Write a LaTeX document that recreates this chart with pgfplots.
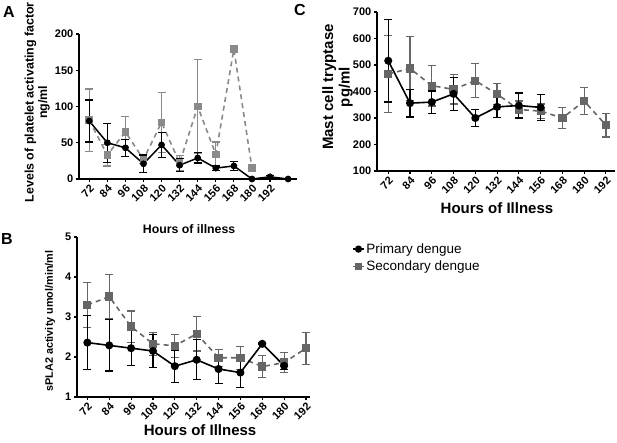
\documentclass[border=0pt]{standalone}
\usepackage{fontspec}
\setmainfont{Liberation Sans}
\usepackage{pgfplots}
\pgfplotsset{compat=1.18}
\definecolor{gA}{HTML}{8A8A8A}
\definecolor{gB}{HTML}{666666}
\pgfplotsset{
  gp/.style={
    scale only axis,
    axis lines*=left,
    axis line style={line width=1.3pt, black},
    tick align=outside,
    major tick length=3.5pt,
    every tick/.style={black, line width=1.1pt},
    /pgf/number format/assume math mode=true,
    tick label style={font=\fontsize{11}{11}\selectfont\bfseries},
    xticklabel style={rotate=45, anchor=north east, inner sep=1pt},
    yticklabel style={inner sep=2pt},
    xtick={72,84,...,192},
    clip=false,
  },
  prim/.style={black, solid, line width=1.6pt, mark=*, mark size=3.2pt, mark options={solid},
    error bars/y dir=both, error bars/y explicit,
    error bars/error bar style={line width=1.2pt, solid, black},
    error bars/error mark options={rotate=90, mark size=4pt, line width=1.2pt, black}},
  sec/.style={#1, dash pattern=on 5pt off 4pt, line width=1.6pt, mark=square*, mark size=3.3pt, mark options={solid},
    error bars/y dir=both, error bars/y explicit,
    error bars/error bar style={line width=1.2pt, solid, #1},
    error bars/error mark options={rotate=90, mark size=4pt, line width=1.2pt, #1}},
}
\begin{document}
\begin{tikzpicture}
\path[use as bounding box] (0,0) rectangle (617pt,443pt);
\node[font=\fontsize{16}{16}\selectfont\bfseries] at (9pt,431pt) {A};
\node[font=\fontsize{16}{16}\selectfont\bfseries] at (7pt,204pt) {B};
\node[font=\fontsize{16}{16}\selectfont\bfseries] at (300pt,433pt) {C};

% ---------- Panel A ----------
\begin{axis}[gp, at={(79pt,264pt)}, anchor=south west, width=218pt, height=145pt,
  xmin=65.2, xmax=209.9, ymin=0, ymax=200, ytick={0,50,...,200},
  xlabel={Hours of illness},
  xlabel style={font=\fontsize{12.3}{13}\selectfont\bfseries, at={(axis description cs:0.505,-0.345)}, anchor=center},
  ylabel={Levels of platelet activating factor\\ng/ml},
  ylabel style={font=\fontsize{12.4}{13.5}\selectfont\bfseries, align=center, at={(axis description cs:-0.192,0.53)}, anchor=center},
]
\addplot[sec=gA, mark size=3pt] coordinates {
 (72,81) +- (0,43)
 (84,33) +- (0,15)
 (96,65) +- (0,21)
 (108,27) +- (0,6)
 (120,78) +- (0,41)
 (132,22) +- (0,10)
 (144,100) +- (0,65)
 (156,34) +- (0,17)
 (168,179) +- (0,1)
 (180,15) +- (0,0)
};
\addplot[prim, mark size=2.6pt, line width=1.5pt] coordinates {
 (72,80) +- (0,29)
 (84,50) +- (0,27)
 (96,43) +- (0,12)
 (108,21) +- (0,12)
 (120,47) +- (0,17)
 (132,19) +- (0,9)
 (144,29) +- (0,7)
 (156,15) +- (0,3)
 (168,18) +- (0,6)
 (180,0) +- (0,0)
 (192,3) +- (0,2)
 (204,0) +- (0,0)
};
\end{axis}

% ---------- Panel B ----------
\begin{axis}[gp, at={(77pt,46pt)}, anchor=south west, width=233pt, height=160pt,
  xmin=66.3, xmax=194.2, ymin=1, ymax=5, ytick={1,2,3,4,5},
  xlabel={Hours of Illness},
  xlabel style={font=\fontsize{15}{16}\selectfont\bfseries, at={(axis description cs:0.528,-0.206)}, anchor=center},
  ylabel={sPLA2 activity umol/min/ml},
  ylabel style={font=\fontsize{10.8}{12}\selectfont\bfseries, at={(axis description cs:-0.116,0.475)}, anchor=center},
]
\addplot[sec=gB] coordinates {
 (72,3.30) +- (0,0.57)
 (84,3.51) +- (0,0.55)
 (96,2.76) +- (0,0.39)
 (108,2.33) +- (0,0.29)
 (120,2.28) +- (0,0.29)
 (132,2.58) +- (0,0.43)
 (144,1.98) +- (0,0.21)
 (156,1.98) +- (0,0.29)
 (168,1.76) +- (0,0.27)
 (180,1.86) +- (0,0.25)
 (192,2.22) +- (0,0.40)
};
\addplot[prim] coordinates {
 (72,2.36) +- (0,0.67)
 (84,2.29) +- (0,0.64)
 (96,2.22) +- (0,0.44)
 (108,2.15) +- (0,0.42)
 (120,1.77) +- (0,0.40)
 (132,1.93) +- (0,0.50)
 (144,1.70) +- (0,0.37)
 (156,1.61) +- (0,0.38)
 (168,2.33) +- (0,0.02)
 (180,1.78) +- (0,0.10)
};
\end{axis}

% ---------- Panel C ----------
\begin{axis}[gp, at={(377pt,272pt)}, anchor=south west, width=238pt, height=159pt,
  xmin=65.8, xmax=197, ymin=100, ymax=700, ytick={100,200,...,700},
  xlabel={Hours of Illness},
  xlabel style={font=\fontsize{15}{16}\selectfont\bfseries, at={(axis description cs:0.504,-0.233)}, anchor=center},
  ylabel={Mast cell tryptase\\pg/ml},
  ylabel style={font=\fontsize{15}{16.5}\selectfont\bfseries, align=center, at={(axis description cs:-0.166,0.528)}, anchor=center},
  legend style={at={(axis description cs:-0.105,-0.445)}, anchor=north west, draw=none, fill=none,
    font=\fontsize{13.5}{14}\selectfont, row sep=3pt, inner sep=0pt,
    nodes={inner sep=1.5pt}},
  legend cell align=left,
  legend image code/.code={\draw[#1, mark=none, solid] (0pt,0pt) -- (11pt,0pt);
     \draw[#1, only marks, mark size=2.8pt] plot coordinates {(5.5pt,0pt)};},
  legend entries={Secondary dengue, Primary dengue},
  reverse legend,
]
\addplot[sec=gB] coordinates {
 (72,466) +- (0,146)
 (84,487) +- (0,120)
 (96,422) +- (0,77)
 (108,408) +- (0,55)
 (120,441) +- (0,65)
 (132,390) +- (0,40)
 (144,332) +- (0,32)
 (156,326) +- (0,27)
 (168,300) +- (0,41)
 (180,364) +- (0,50)
 (192,273) +- (0,45)
};
\addplot[prim] coordinates {
 (72,516) +- (0,156)
 (84,356) +- (0,52)
 (96,360) +- (0,42)
 (108,391) +- (0,62)
 (120,300) +- (0,31)
 (132,342) +- (0,40)
 (144,347) +- (0,47)
 (156,340) +- (0,49)
};
\end{axis}
\end{tikzpicture}
\end{document}
